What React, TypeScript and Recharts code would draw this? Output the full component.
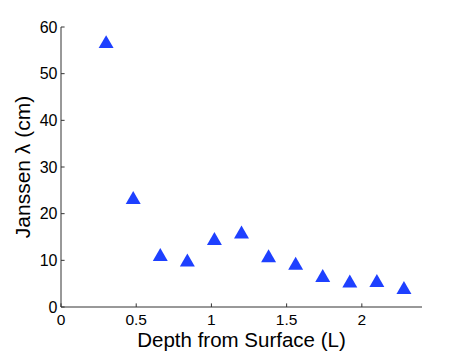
import { ScatterChart, Scatter, XAxis, YAxis, Symbols } from "recharts"

// depth from surface (L) and Janssen lambda (cm)
const depths = [0.30, 0.48, 0.66, 0.84, 1.02, 1.20, 1.38, 1.56, 1.74, 1.92, 2.10, 2.28]
const lambdas = [56.4, 23.0, 10.8, 9.6, 14.2, 15.6, 10.5, 8.9, 6.3, 5.1, 5.2, 3.7]

const xTicks = [0, 0.5, 1, 1.5, 2]
const yTicks = [0, 10, 20, 30, 40, 50, 60]

const FONT = '"Liberation Sans", Arial, Helvetica, sans-serif'
const AXIS_COLOR = "#333"
const MARKER_COLOR = "#1e40ff"
const TICK_LEN = 3.6

const points = depths.map((d, i) => ({ depth: d, lambda: lambdas[i] }))

function XTick(props: any) {
  const { x, y, payload } = props
  return (
    <g>
      <line x1={x} x2={x} y1={y} y2={y - TICK_LEN} stroke={AXIS_COLOR} strokeWidth={1} />
      <text x={x} y={y + 18} textAnchor="middle" fontSize={15.5} fontFamily={FONT} fill="#000">
        {String(payload.value)}
      </text>
    </g>
  )
}

function YTick(props: any) {
  const { x, y, payload } = props
  return (
    <g>
      <line x1={x} x2={x + TICK_LEN} y1={y} y2={y} stroke={AXIS_COLOR} strokeWidth={1} />
      <text x={x - 3.5} y={y + 5.5} textAnchor="end" fontSize={16} fontFamily={FONT} fill="#000">
        {String(payload.value)}
      </text>
    </g>
  )
}

function XLabel(props: any) {
  const vb = props.viewBox
  return (
    <text x={vb.x + vb.width / 2} y={347} textAnchor="middle" fontSize={20.5} fontFamily={FONT} fill="#000">
      Depth from Surface (L)
    </text>
  )
}

function YLabel(props: any) {
  const vb = props.viewBox
  const cy = vb.y + vb.height / 2
  return (
    <text x={29.5} y={cy} transform={`rotate(-90, 29.5, ${cy})`} textAnchor="middle" fontSize={21} fontFamily={FONT} fill="#000">
      Janssen λ (cm)
    </text>
  )
}

function Triangle(props: any) {
  return <Symbols cx={props.cx} cy={props.cy} type="triangle" size={97} fill={MARKER_COLOR} />
}

export default function App() {
  return (
    <div style={{ position: "absolute", left: 0, top: 0, width: 467, height: 352, background: "#fff" }}>
      <ScatterChart width={467} height={352} margin={{ top: 27, right: 45, bottom: 0, left: 0 }}>
        <XAxis
          type="number"
          dataKey="depth"
          domain={[0, 2.4]}
          ticks={xTicks}
          height={45}
          tickSize={0}
          tickMargin={0}
          tickLine={false}
          axisLine={{ stroke: AXIS_COLOR, strokeWidth: 1 }}
          tick={<XTick />}
          interval={0}
          allowDataOverflow
          label={{ content: <XLabel /> }}
        />
        <YAxis
          type="number"
          dataKey="lambda"
          domain={[0, 60]}
          ticks={yTicks}
          width={61}
          tickSize={0}
          tickMargin={0}
          tickLine={false}
          axisLine={{ stroke: AXIS_COLOR, strokeWidth: 1 }}
          tick={<YTick />}
          interval={0}
          allowDataOverflow
          label={{ content: <YLabel /> }}
        />
        <Scatter data={points} shape={<Triangle />} fill={MARKER_COLOR} isAnimationActive={false} />
      </ScatterChart>
    </div>
  )
}
